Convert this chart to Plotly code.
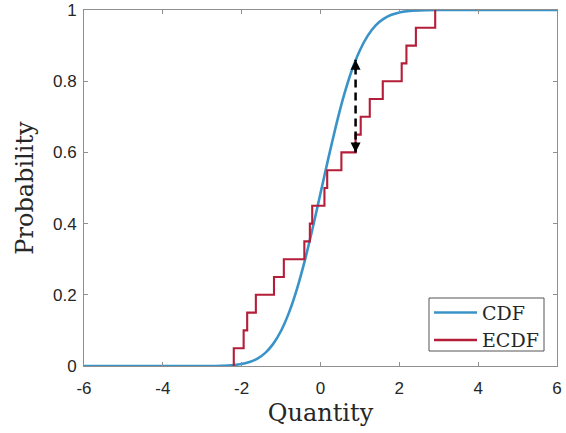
import plotly.graph_objects as go

# Sorted sample used for the empirical CDF
sample = [-2.20, -1.95, -1.86, -1.64, -1.18, -0.93, -0.41, -0.27, -0.21, 0.10,
          0.17, 0.53, 0.89, 1.02, 1.25, 1.58, 2.06, 2.18, 2.42, 2.91]
ecdf_levels = [0.05, 0.10, 0.15, 0.20, 0.25, 0.30, 0.35, 0.40, 0.45, 0.50,
               0.55, 0.60, 0.65, 0.70, 0.75, 0.80, 0.85, 0.90, 0.95, 1.00]

# Theoretical CDF (points along the curve)
cdf_x = [-6.0, -5.0, -4.0, -3.0, -2.5, -2.2, -2.0, -1.8, -1.6, -1.4, -1.2, -1.0,
         -0.8, -0.6, -0.4, -0.2, 0.0, 0.2, 0.4, 0.6, 0.8, 1.0, 1.2, 1.4, 1.6,
         1.8, 2.0, 2.2, 2.5, 3.0, 4.0, 5.0, 6.0]
cdf_p = [0.0, 0.0, 0.0, 0.0001, 0.0008, 0.0027, 0.0056, 0.0111, 0.0208, 0.0369,
         0.0621, 0.099, 0.150, 0.2155, 0.2955, 0.387, 0.485, 0.584, 0.678, 0.762,
         0.832, 0.887, 0.928, 0.957, 0.975, 0.9865, 0.9931, 0.9967, 0.999,
         0.9999, 1.0, 1.0, 1.0]

# Largest gap between the two curves
ks_x = 0.89
ks_lo = 0.60
ks_hi = 0.86

x_ticks = [-6, -4, -2, 0, 2, 4, 6]
y_ticks = [0, 0.2, 0.4, 0.6, 0.8, 1]
y_tick_text = ["0", "0.2", "0.4", "0.6", "0.8", "1"]

series_names = ["CDF", "ECDF"]

blue = "#3A93C8"
red = "#B41E38"
axis_grey = "#8f8f8f"
label_col = "#262626"
serif = "DejaVu Serif, serif"

W, H = 566, 433
M_L, M_R, M_T, M_B = 84, 9, 10, 67
plot_w = W - M_L - M_R
plot_h = H - M_T - M_B


def px_to_paper(px, py):
    return (px - M_L) / plot_w, (H - M_B - py) / plot_h


fig = go.Figure()

fig.add_trace(go.Scatter(
    x=cdf_x, y=cdf_p, mode="lines", name=series_names[0], showlegend=False,
    line=dict(color=blue, width=2.6, shape="spline", smoothing=0.6),
))

fig.add_trace(go.Scatter(
    x=[sample[0]] + sample, y=[0.0] + ecdf_levels, mode="lines",
    name=series_names[1], showlegend=False,
    line=dict(color=red, width=2.1, shape="hv"),
))

# Dashed connector between the curves
fig.add_trace(go.Scatter(
    x=[ks_x, ks_x], y=[ks_lo, ks_hi], mode="lines", showlegend=False,
    line=dict(color="black", width=2.5, dash="8px,5px"), hoverinfo="skip",
))
for tip, tail in [(ks_hi, 12), (ks_lo, -12)]:
    fig.add_annotation(
        x=ks_x, y=tip, ax=0, ay=tail, xref="x", yref="y",
        showarrow=True, arrowhead=2, arrowsize=1, arrowwidth=2,
        arrowcolor="black", text="",
    )

# Legend box with line samples
bx0, by0 = px_to_paper(429, 351)
bx1, by1 = px_to_paper(544, 298)
fig.add_shape(type="rect", xref="paper", yref="paper",
              x0=bx0, y0=by0, x1=bx1, y1=by1,
              line=dict(color="#555555", width=1), fillcolor="white", layer="above")
for name, colour, row_y in [(series_names[0], blue, 312.5), (series_names[1], red, 340)]:
    lx0, ly = px_to_paper(434, row_y)
    lx1, _ = px_to_paper(477, row_y)
    fig.add_shape(type="line", xref="paper", yref="paper",
                  x0=lx0, y0=ly, x1=lx1, y1=ly,
                  line=dict(color=colour, width=2.4), layer="above")
    tx, _ = px_to_paper(480, row_y)
    fig.add_annotation(x=tx, y=ly, xref="paper", yref="paper", text=name,
                       showarrow=False, xanchor="left", yanchor="middle",
                       font=dict(family=serif, size=19, color=label_col))

axis_common = dict(
    showgrid=False, zeroline=False, showline=True, linecolor=axis_grey,
    linewidth=1, mirror="allticks", ticks="inside", ticklen=4,
    tickcolor=axis_grey, tickwidth=1, automargin=False,
    tickfont=dict(family="Liberation Sans, Arial, sans-serif", size=17,
                  color=label_col),
)

fig.update_xaxes(
    range=[-6, 6], tickvals=x_ticks, ticktext=[str(v) for v in x_ticks],
    ticklabelstandoff=7,
    title=dict(text="Quantity", standoff=6,
               font=dict(family=serif, size=24, color=label_col)),
    **axis_common,
)
fig.update_yaxes(
    range=[0, 1], tickvals=y_ticks, ticktext=y_tick_text,
    ticklabelstandoff=3,
    title=dict(text="Probability", standoff=12,
               font=dict(family=serif, size=24, color=label_col)),
    **axis_common,
)

fig.update_layout(
    width=W, height=H,
    margin=dict(l=M_L, r=M_R, t=M_T, b=M_B),
    paper_bgcolor="white", plot_bgcolor="white",
    showlegend=False,
)

fig.write_html("out.html")
